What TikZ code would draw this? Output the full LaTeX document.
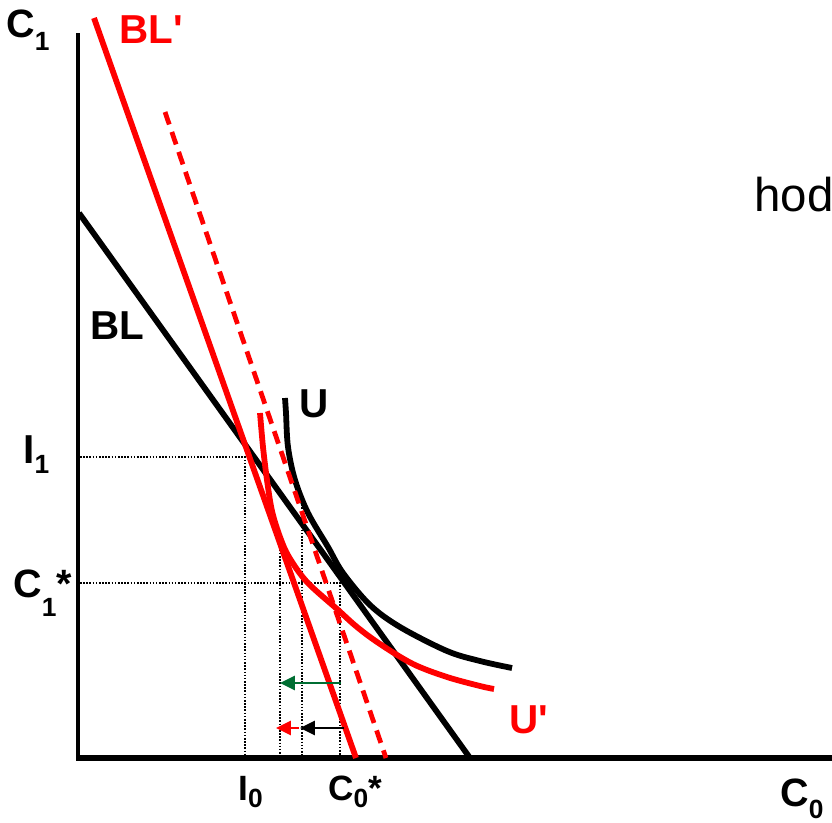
\documentclass[tikz,border=0pt]{standalone}
\usepackage{fontspec}
\setmainfont{Liberation Sans}
\newfontfamily\qfont{Liberation Sans}
\usetikzlibrary{arrows.meta}
\newcommand{\mysub}[2]{\raisebox{#1}{\fontsize{15}{15}\selectfont #2}}
\newcommand{\sq}{{\qfont\bfseries\symbol{39}}}
\begin{document}
\begin{tikzpicture}[x=0.02cm,y=-0.02cm,
  curve/.style={line width=3.3pt,line cap=butt},
  blk/.style={curve,black},
  rd/.style={curve,red},
  rddash/.style={line width=2.7pt,red,dash pattern=on 7.5pt off 4.5pt},
  dotline/.style={line width=0.9pt,dash pattern=on 0.9pt off 0.9pt},
  axisv/.style={line width=2pt},
  axish/.style={line width=3.1pt},
  lab/.style={inner sep=0pt,anchor=base west,font=\bfseries\fontsize{20}{20}\selectfont},
  labmid/.style={lab,font=\bfseries\fontsize{22.5}{22.5}\selectfont},
  labbig/.style={lab,font=\bfseries\fontsize{23}{23}\selectfont},
  arr/.style={line width=1.4pt,-{Triangle[length=8.5pt,width=8pt]}},
  ]
\useasboundingbox (0,0) rectangle (832,822);
\clip (0,0) rectangle (832,822);
\definecolor{dgreen}{RGB}{0,110,50}
% axes
\coordinate (O) at (78,758);
\coordinate (Ytop) at (78,33);
\coordinate (Xend) at (840,758);
\draw[axisv] (Ytop) -- (78,760);
\draw[axish] (76,758) -- (Xend);
% dotted guides
\coordinate (I1l) at (80,457);
\coordinate (I1p) at (245,457);
\coordinate (I0b) at (245,757);
\coordinate (C1l) at (80,583);
\coordinate (C1p) at (340,583);
\coordinate (C0b) at (340,757);
\coordinate (Ta) at (280,537);
\coordinate (Tab) at (280,757);
\coordinate (Tb) at (302,498);
\coordinate (Tbb) at (302,757);
\draw[dotline] (I1l) -- (I1p) -- (I0b);
\draw[dotline] (C1l) -- (C1p) -- (C0b);
\draw[dotline] (Ta) -- (Tab);
\draw[dotline] (Tb) -- (Tbb);
% budget line BL
\coordinate (BLa) at (79,213);
\coordinate (BLb) at (470,758);
\draw[blk] (BLa) -- (BLb);
% indifference curve U
\draw[blk] plot[smooth,tension=0.55] coordinates {(285,398) (286,413) (288,447) (295,480) (308,513) (328,547) (343,573) (370,605) (400,627) (447,651) (480,661) (512,668)};
% BL'
\coordinate (BPa) at (94,18);
\coordinate (BPb) at (356,758);
\draw[rd] (BPa) -- (BPb);
% dashed parallel
\coordinate (BDa) at (165,112);
\coordinate (BDb) at (386,758);
\draw[rddash] (BDa) -- (BDb);
% U'
\draw[rd] plot[smooth,tension=0.55] coordinates {(260,413) (263,447) (267,480) (272,511) (280,537) (289,557) (307,582) (337,609) (357,627) (380,644) (413,664) (447,677) (480,686) (494,689)};
% arrows
\coordinate (Ga) at (341,683);
\coordinate (Gb) at (280,683);
\draw[arr,dgreen] (Ga) -- (Gb);
\coordinate (Ka) at (344,728);
\coordinate (Kb) at (300,728);
\draw[arr,black] (Ka) -- (Kb);
\coordinate (Ra) at (299,728);
\coordinate (Rb) at (276,728);
\draw[arr,red] (Ra) -- (Rb);
% labels
\node[labmid] (lc1) at (6,37) {C\mysub{-7.5pt}{1}};
\node[labbig,red] (lblp) at (119,43) {BL\sq};
\node[labbig] (lbl) at (90,339) {BL};
\node[labbig] (lu) at (299,417) {U};
\node[labbig,red] (lup) at (509,733) {U\sq};
\node[labbig] (li1) at (23,463) {I\mysub{-6pt}{1}};
\node[labmid] (lc1s) at (13,597) {C\mysub{-11pt}{1}*};
\node[lab] (li0) at (238,800) {I\mysub{-4pt}{0}};
\node[lab] (lc0s) at (328,800) {C\mysub{-4pt}{0}*};
\node[labmid] (lc0) at (780,806) {C\mysub{-7pt}{0}};
\node[inner sep=0pt,anchor=base west,font=\fontsize{27}{27}\selectfont] (lhod) at (754,211) {hod};
\end{tikzpicture}
\end{document}
